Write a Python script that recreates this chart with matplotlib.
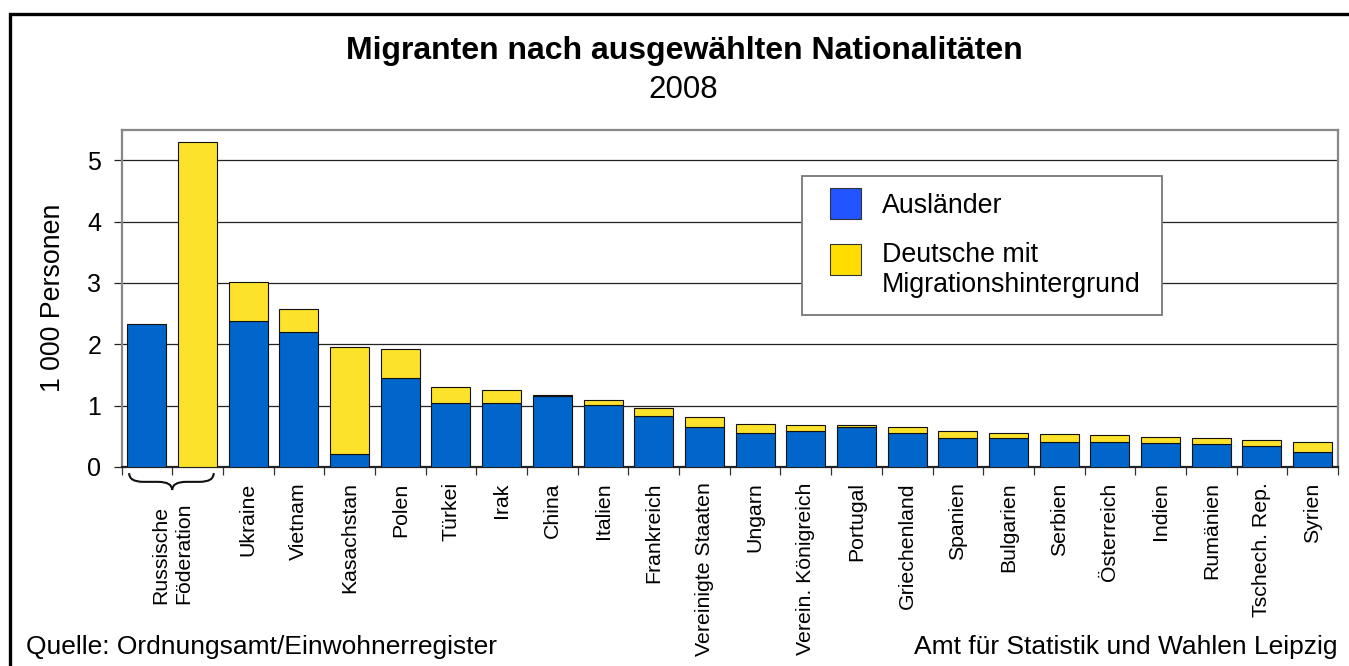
import matplotlib
matplotlib.use("Agg")
import matplotlib.pyplot as plt
import matplotlib.patches as mpatches
from matplotlib.path import Path
import matplotlib.transforms as mtransforms
import numpy as np

plt.rcParams['font.family'] = ['Liberation Sans', 'DejaVu Sans']

# ---- data ----
countries = ["Ukraine", "Vietnam", "Kasachstan", "Polen", "Türkei", "Irak", "China",
             "Italien", "Frankreich", "Vereinigte Staaten", "Ungarn", "Verein. Königreich",
             "Portugal", "Griechenland", "Spanien", "Bulgarien", "Serbien", "Österreich",
             "Indien", "Rumänien", "Tschech. Rep.", "Syrien"]
auslaender = [2.38, 2.20, 0.22, 1.45, 1.04, 1.05, 1.16, 1.01, 0.83, 0.66, 0.55, 0.58,
              0.645, 0.56, 0.48, 0.47, 0.41, 0.41, 0.39, 0.37, 0.34, 0.24]
deutsche = [0.63, 0.37, 1.74, 0.47, 0.26, 0.20, 0.02, 0.09, 0.13, 0.16, 0.15, 0.11,
            0.045, 0.10, 0.11, 0.08, 0.13, 0.11, 0.10, 0.11, 0.10, 0.16]
russia_label = "Russische\nFöderation"
russia_auslaender = 2.33
russia_deutsche = 5.29

series_names = ["Ausländer", "Deutsche mit\nMigrationshintergrund"]
title = "Migranten nach ausgewählten Nationalitäten"
subtitle = "2008"
ylabel = "1 000 Personen"
source_left = "Quelle: Ordnungsamt/Einwohnerregister"
source_right = "Amt für Statistik und Wahlen Leipzig"

BLUE = "#0066CC"
YELLOW = "#FCE22A"
LEG_BLUE = "#2255FF"
LEG_YELLOW = "#FFDD00"

W, H = 1349, 666
fig = plt.figure(figsize=(W / 100, H / 100), dpi=100)
ax = fig.add_axes([121.5 / W, 1 - 467 / H, (1338 - 121.5) / W, (467 - 129.5) / H])

bw = 0.77
# Russia: two separate bars
ax.bar([0.5], [russia_auslaender], width=bw, color=BLUE, edgecolor="#111111", linewidth=0.8, zorder=3)
ax.bar([1.5], [russia_deutsche], width=bw, color=YELLOW, edgecolor="#111111", linewidth=0.8, zorder=3)
# other countries: stacked
x = np.arange(len(countries)) + 2.5
ax.bar(x, auslaender, width=bw, color=BLUE, edgecolor="#111111", linewidth=0.8, zorder=3)
ax.bar(x, deutsche, bottom=auslaender, width=bw, color=YELLOW, edgecolor="#111111", linewidth=0.8, zorder=3)

ax.set_xlim(0, len(countries) + 2)
ax.set_ylim(0, 5.5)
ax.set_yticks([0, 1, 2, 3, 4, 5])
ax.yaxis.grid(True, color="#222222", linewidth=0.9, zorder=0)
ax.set_axisbelow(True)
ax.tick_params(axis="y", direction="out", length=5.5, width=0.9, color="#222222",
               labelsize=18, pad=9)

# x ticks at slot boundaries, labels at centers
ax.set_xticks(np.arange(0, len(countries) + 3))
ax.set_xticklabels([])
ax.tick_params(axis="x", which="major", direction="out", length=6, width=0.9, color="#333333")
ax.set_xticks(x, minor=True)
ax.set_xticklabels(countries, minor=True, rotation=90, fontsize=15.3, va="top", ha="center")
ax.tick_params(axis="x", which="minor", length=0, pad=11)

for side in ["left", "top", "right"]:
    ax.spines[side].set_color("#888888")
    ax.spines[side].set_linewidth(1.6)
ax.spines["bottom"].set_color("#222222")
ax.spines["bottom"].set_linewidth(1.6)

ax.set_ylabel(ylabel, fontsize=19.3)
ax.yaxis.label.set_verticalalignment("center")
ax.yaxis.set_label_coords((52.7 - 121.5) / (1338 - 121.5), 0.5)

# brace under Russia
trans = mtransforms.blended_transform_factory(ax.transData, ax.transAxes)
x0, xm, x1 = 0.15, 1.0, 1.82
yt, ymid, yb = -0.018, -0.044, -0.068
r = 0.28
verts = [(x0, yt), (x0, ymid), (x0 + r, ymid),
         (xm - r, ymid),
         (xm, ymid), (xm, yb),
         (xm, ymid), (xm + r, ymid),
         (x1 - r, ymid),
         (x1, ymid), (x1, yt)]
codes = [Path.MOVETO, Path.CURVE3, Path.CURVE3,
         Path.LINETO,
         Path.CURVE3, Path.CURVE3,
         Path.CURVE3, Path.CURVE3,
         Path.LINETO,
         Path.CURVE3, Path.CURVE3]
ax.add_patch(mpatches.PathPatch(Path(verts, codes), transform=trans, fill=False,
                                edgecolor="#111111", linewidth=1.5, clip_on=False))
ax.text(1.0, -(503 - 467) / (467 - 129.5), russia_label, transform=trans, rotation=90,
        va="top", ha="center", multialignment="left", fontsize=15.3, linespacing=1.25)

# legend (manual box)
fig.patches.append(mpatches.Rectangle((801.7 / W, 1 - 315.3 / H), (1162.3 - 801.7) / W,
                                      (315.3 - 176) / H, transform=fig.transFigure,
                                      facecolor="white", edgecolor="#777777", linewidth=1.3, zorder=5))
fig.patches.append(mpatches.Rectangle((830 / W, 1 - 219 / H), 31 / W, 31 / H,
                                      transform=fig.transFigure, facecolor=LEG_BLUE,
                                      edgecolor="#333333", linewidth=0.8, zorder=6))
fig.patches.append(mpatches.Rectangle((830 / W, 1 - 275 / H), 31 / W, 31 / H,
                                      transform=fig.transFigure, facecolor=LEG_YELLOW,
                                      edgecolor="#333333", linewidth=0.8, zorder=6))
fig.text(882 / W, 1 - 213.3 / H, series_names[0], fontsize=19.3, va="baseline", ha="left", zorder=7)
for i, line in enumerate(series_names[1].split("\n")):
    fig.text(882 / W, 1 - (261.7 + 30 * i) / H, line, fontsize=19.3, va="baseline",
             ha="left", zorder=7)

# titles
fig.text(684.5 / W, 1 - 59.3 / H, title, fontsize=23, fontweight="bold", ha="center", va="baseline")
fig.text(683.5 / W, 1 - 98.3 / H, subtitle, fontsize=22.5, ha="center", va="baseline")

# footer
fig.text(26 / W, 1 - 654 / H, source_left, fontsize=19, ha="left", va="baseline")
fig.text(1337 / W, 1 - 654 / H, source_right, fontsize=19, ha="right", va="baseline")

# figure border
fig.patches.append(mpatches.Rectangle((10 / W, -0.05), 1.1, 1 - 14 / H + 0.05,
                                      transform=fig.transFigure, fill=False,
                                      edgecolor="black", linewidth=2.4, zorder=10))

fig.savefig("out.png", dpi=100)
